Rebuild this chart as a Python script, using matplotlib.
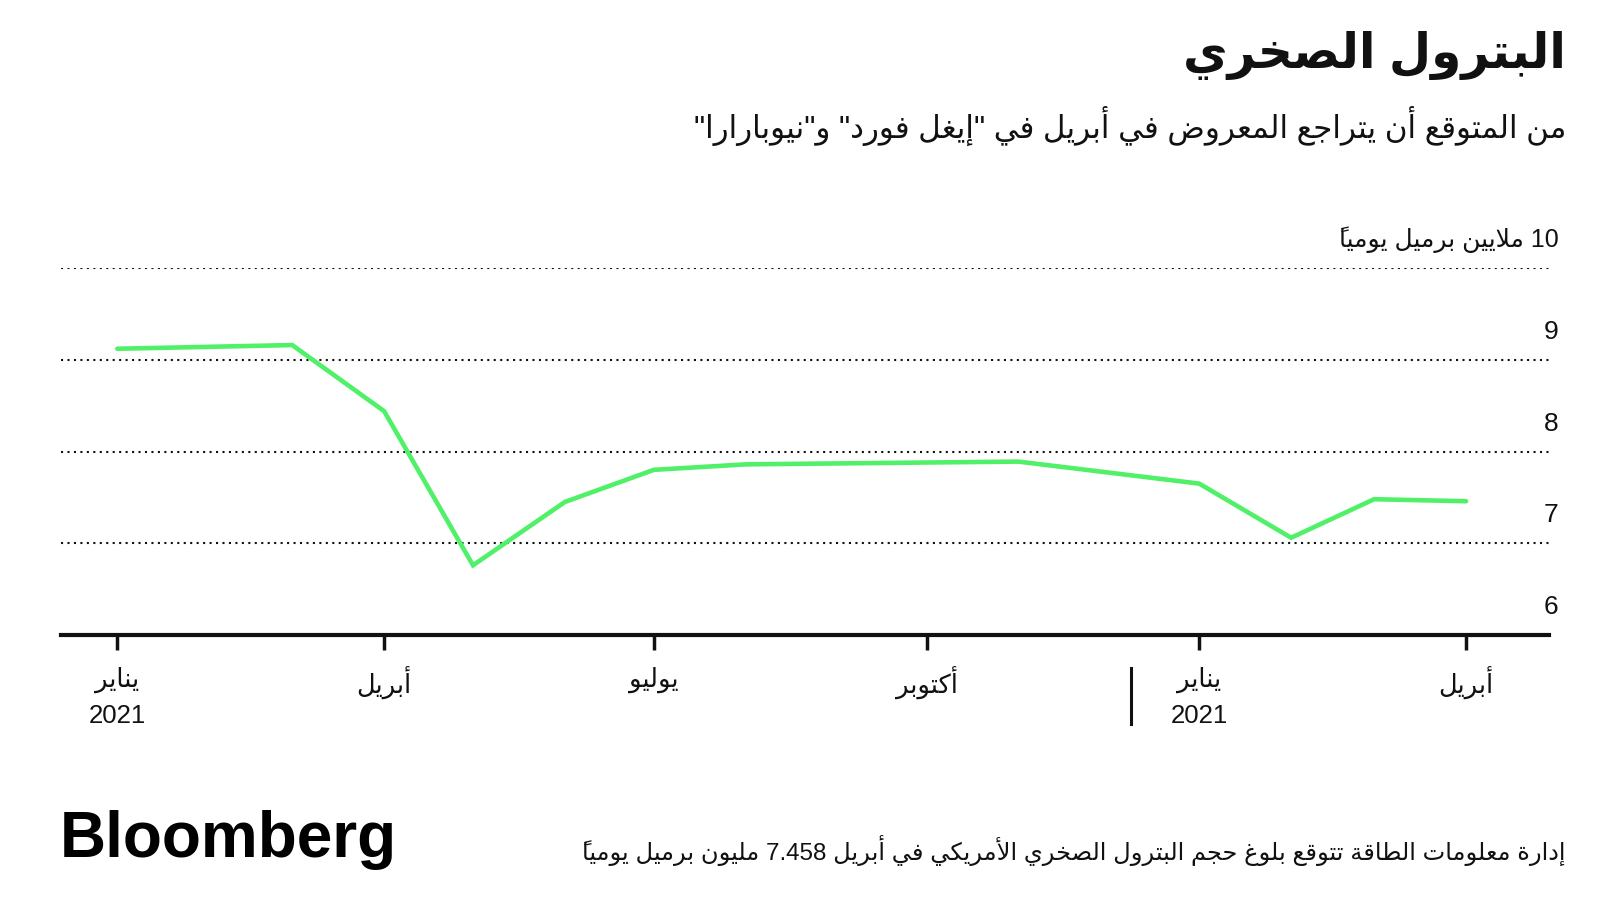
"""Shale oil output chart (Bloomberg Arabic style)."""

import re

import matplotlib

matplotlib.use("Agg")

import matplotlib.dates as mdates  # noqa: E402
import matplotlib.pyplot as plt  # noqa: E402
import matplotlib.transforms as mtrans  # noqa: E402
import numpy as np  # noqa: E402

# --- data -------------------------------------------------------------------
months = np.array(
    ["2021-01-01", "2021-03-01", "2021-04-01", "2021-05-01", "2021-06-01",
     "2021-07-01", "2021-08-01", "2021-11-01", "2022-01-01", "2022-02-01",
     "2022-03-01", "2022-04-01"],
    dtype="datetime64[D]",
)
output_mbd = [9.12, 9.16, 8.44, 6.76, 7.45, 7.80, 7.86, 7.89, 7.65, 7.06, 7.48, 7.458]

x_ticks = np.array(
    ["2021-01-01", "2021-04-01", "2021-07-01", "2021-10-01", "2022-01-01", "2022-04-01"],
    dtype="datetime64[D]",
)
x_months = ["يناير", "أبريل", "يوليو", "أكتوبر", "يناير", "أبريل"]
x_years = ["2021", "", "", "", "2021", ""]
y_ticks = [6, 7, 8, 9, 10]
y_labels = ["6", "7", "8", "9", "10 ملايين برميل يومياً"]

title = "البترول الصخري"
subtitle = 'من المتوقع أن يتراجع المعروض في أبريل في "إيغل فورد" و"نيوبارارا"'
footnote = "إدارة معلومات الطاقة تتوقع بلوغ حجم البترول الصخري الأمريكي في أبريل 7.458 مليون برميل يومياً"

# --- minimal Arabic shaping (matplotlib has no bidi / shaping) ---------------
# letter -> (first presentation form, number of forms): iso, fin, ini, med
_FORMS = {
    "ء": (0xFE80, 1), "آ": (0xFE81, 2), "أ": (0xFE83, 2), "ؤ": (0xFE85, 2),
    "إ": (0xFE87, 2), "ئ": (0xFE89, 4), "ا": (0xFE8D, 2), "ب": (0xFE8F, 4),
    "ة": (0xFE93, 2), "ت": (0xFE95, 4), "ث": (0xFE99, 4), "ج": (0xFE9D, 4),
    "ح": (0xFEA1, 4), "خ": (0xFEA5, 4), "د": (0xFEA9, 2), "ذ": (0xFEAB, 2),
    "ر": (0xFEAD, 2), "ز": (0xFEAF, 2), "س": (0xFEB1, 4), "ش": (0xFEB5, 4),
    "ص": (0xFEB9, 4), "ض": (0xFEBD, 4), "ط": (0xFEC1, 4), "ظ": (0xFEC5, 4),
    "ع": (0xFEC9, 4), "غ": (0xFECD, 4), "ف": (0xFED1, 4), "ق": (0xFED5, 4),
    "ك": (0xFED9, 4), "ل": (0xFEDD, 4), "م": (0xFEE1, 4), "ن": (0xFEE5, 4),
    "ه": (0xFEE9, 4), "و": (0xFEED, 2), "ى": (0xFEEF, 2), "ي": (0xFEF1, 4),
}
_LAM_ALEF = {"آ": 0xFEF5, "أ": 0xFEF7, "إ": 0xFEF9, "ا": 0xFEFB}
_LTR_RUN = re.compile(r"[0-9A-Za-z]+(?:\.[0-9]+)*")


def _is_mark(ch):
    return 0x064B <= ord(ch) <= 0x0652


def _add_chars(units, seg):
    for ch in seg:
        if _is_mark(ch) and units:
            units[-1][1] += ch
        elif ch in _FORMS:
            start, n = _FORMS[ch]
            units.append([ch, "", "D" if n == 4 else ("R" if n == 2 else "U"), start])
        else:
            units.append([ch, "", "U", None])


def ar(text):
    """Return text in visual order with contextual presentation forms."""
    # units: [base, marks, kind, start]  kind: D dual, R right, U none, L ltr
    units = []
    pos = 0
    for m in _LTR_RUN.finditer(text):
        _add_chars(units, text[pos:m.start()])
        units.append([m.group(), "", "L", None])
        pos = m.end()
    _add_chars(units, text[pos:])

    # lam-alef ligatures
    merged = []
    for u in units:
        if merged and merged[-1][0] == "ل" and not merged[-1][1] and u[0] in _LAM_ALEF:
            merged[-1] = ["لا", u[1], "R", _LAM_ALEF[u[0]]]
        else:
            merged.append(u)
    units = merged

    glyphs = []
    for k, (base, marks, kind, start) in enumerate(units):
        if kind in "DR":
            jp = k > 0 and units[k - 1][2] == "D"
            jn = kind == "D" and k + 1 < len(units) and units[k + 1][2] in "DR"
            form = {(False, False): 0, (True, False): 1, (False, True): 2, (True, True): 3}[(jp, jn)]
            base = chr(start + form)
        # zero-width marks draw rightwards from the pen, so they go
        # ahead of their base letter in visual order
        glyphs.append(marks + base)
    return "".join(reversed(glyphs))


# --- figure -----------------------------------------------------------------
FONT = ["Liberation Sans", "DejaVu Sans"]
plt.rcParams["font.family"] = FONT
INK = "#111111"

fig = plt.figure(figsize=(16, 9), dpi=100, facecolor="white")
ax = fig.add_axes([61 / 1600, 1 - 635 / 900, (1549 - 61) / 1600, (635 - 268) / 900])

ax.plot(months, output_mbd, color="#50f068", linewidth=3.3, solid_capstyle="round",
        solid_joinstyle="miter", clip_on=False, zorder=3)

ax.set_ylim(6, 10)
ax.set_xlim(np.datetime64("2020-12-13"), np.datetime64("2022-04-29"))

for yv in y_ticks[1:]:
    ax.axhline(yv, color=INK, linewidth=1.5, linestyle=(0, (1, 2.1)), zorder=1)

for side in ("top", "right", "left"):
    ax.spines[side].set_visible(False)
ax.spines["bottom"].set_linewidth(3)
ax.spines["bottom"].set_color(INK)
ax.set_yticks([])

labels = [ar(mo) + ("\n" + yr if yr else "") for mo, yr in zip(x_months, x_years)]
ax.set_xticks(mdates.date2num(x_ticks))
ax.set_xticklabels(labels, fontsize=18.5, linespacing=1.55, va="top")
ax.tick_params(axis="x", length=11, width=2.5, color=INK, pad=12, labelcolor=INK)

# y labels sit above their gridline, right aligned
off = mtrans.offset_copy(ax.transData, fig=fig, x=0, y=21, units="dots")
lab_tr = mtrans.blended_transform_factory(ax.transAxes, off)
for yv, lab in zip(y_ticks, y_labels):
    ax.text(1.0065, yv, ar(lab), transform=lab_tr, ha="right", va="baseline",
            fontsize=19 if len(lab) < 3 else 18, color=INK)

# separator between years
sep_tr = mtrans.blended_transform_factory(ax.transData, ax.transAxes)
ax.plot([np.datetime64("2021-12-09")] * 2, [-0.09, -0.2425], color=INK,
        linewidth=2.2, transform=sep_tr, clip_on=False)

fig.text(1566 / 1600, 1 - 68 / 900, ar(title), ha="right", va="baseline",
         fontsize=35, fontweight="bold", color=INK)
fig.text(1566 / 1600, 1 - 138 / 900, ar(subtitle), ha="right", va="baseline",
         fontsize=22.3, color=INK)
fig.text(1566 / 1600, 1 - 860 / 900, ar(footnote), ha="right", va="baseline",
         fontsize=17.4, color=INK)
fig.text(60 / 1600, 1 - 857 / 900, "Bloomberg", ha="left", va="baseline",
         fontsize=46, fontweight="bold", color="#000000")

fig.savefig("out.png", dpi=100, facecolor="white")
